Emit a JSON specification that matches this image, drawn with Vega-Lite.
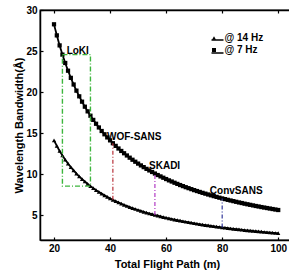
{
  "$schema": "https://vega.github.io/schema/vega-lite/v6.json",
  "width": 250,
  "height": 230,
  "autosize": {"type": "none"},
  "padding": {"left": 40, "top": 10, "right": 0, "bottom": 34},
  "background": "white",
  "config": {
    "font": "Liberation Sans",
    "view": {"stroke": "black", "strokeWidth": 1.3},
    "axis": {
      "labelFont": "Liberation Sans", "labelFontWeight": "bold", "labelFontSize": 10, "labelColor": "black",
      "titleFont": "Liberation Sans", "titleFontWeight": "bold", "titleFontSize": 11, "titleColor": "black",
      "domainColor": "black", "domainWidth": 1.5, "tickColor": "black", "tickSize": -3, "tickWidth": 1.2, "grid": false
    }
  },
  "datasets": {
    "curves": [
      {"L":20,"@ 7 Hz":28.26,"@ 14 Hz":14.13},{"L":21,"@ 7 Hz":26.91,"@ 14 Hz":13.46},{"L":22,"@ 7 Hz":25.69,"@ 14 Hz":12.84},
      {"L":23,"@ 7 Hz":24.57,"@ 14 Hz":12.29},{"L":24,"@ 7 Hz":23.55,"@ 14 Hz":11.77},{"L":25,"@ 7 Hz":22.61,"@ 14 Hz":11.30},
      {"L":26,"@ 7 Hz":21.74,"@ 14 Hz":10.87},{"L":27,"@ 7 Hz":20.93,"@ 14 Hz":10.47},{"L":28,"@ 7 Hz":20.18,"@ 14 Hz":10.09},
      {"L":29,"@ 7 Hz":19.49,"@ 14 Hz":9.74},{"L":30,"@ 7 Hz":18.84,"@ 14 Hz":9.42},{"L":31,"@ 7 Hz":18.23,"@ 14 Hz":9.12},
      {"L":32,"@ 7 Hz":17.66,"@ 14 Hz":8.83},{"L":33,"@ 7 Hz":17.13,"@ 14 Hz":8.56},{"L":34,"@ 7 Hz":16.62,"@ 14 Hz":8.31},
      {"L":35,"@ 7 Hz":16.15,"@ 14 Hz":8.07},{"L":36,"@ 7 Hz":15.70,"@ 14 Hz":7.85},{"L":37,"@ 7 Hz":15.27,"@ 14 Hz":7.64},
      {"L":38,"@ 7 Hz":14.87,"@ 14 Hz":7.44},{"L":39,"@ 7 Hz":14.49,"@ 14 Hz":7.25},{"L":40,"@ 7 Hz":14.13,"@ 14 Hz":7.06},
      {"L":41,"@ 7 Hz":13.78,"@ 14 Hz":6.89},{"L":42,"@ 7 Hz":13.46,"@ 14 Hz":6.73},{"L":43,"@ 7 Hz":13.14,"@ 14 Hz":6.57},
      {"L":44,"@ 7 Hz":12.84,"@ 14 Hz":6.42},{"L":45,"@ 7 Hz":12.56,"@ 14 Hz":6.28},{"L":46,"@ 7 Hz":12.29,"@ 14 Hz":6.14},
      {"L":47,"@ 7 Hz":12.02,"@ 14 Hz":6.01},{"L":48,"@ 7 Hz":11.77,"@ 14 Hz":5.89},{"L":49,"@ 7 Hz":11.53,"@ 14 Hz":5.77},
      {"L":50,"@ 7 Hz":11.30,"@ 14 Hz":5.65},{"L":51,"@ 7 Hz":11.08,"@ 14 Hz":5.54},{"L":52,"@ 7 Hz":10.87,"@ 14 Hz":5.43},
      {"L":53,"@ 7 Hz":10.66,"@ 14 Hz":5.33},{"L":54,"@ 7 Hz":10.47,"@ 14 Hz":5.23},{"L":55,"@ 7 Hz":10.28,"@ 14 Hz":5.14},
      {"L":56,"@ 7 Hz":10.09,"@ 14 Hz":5.05},{"L":57,"@ 7 Hz":9.91,"@ 14 Hz":4.96},{"L":58,"@ 7 Hz":9.74,"@ 14 Hz":4.87},
      {"L":59,"@ 7 Hz":9.58,"@ 14 Hz":4.79},{"L":60,"@ 7 Hz":9.42,"@ 14 Hz":4.71},{"L":61,"@ 7 Hz":9.26,"@ 14 Hz":4.63},
      {"L":62,"@ 7 Hz":9.12,"@ 14 Hz":4.56},{"L":63,"@ 7 Hz":8.97,"@ 14 Hz":4.49},{"L":64,"@ 7 Hz":8.83,"@ 14 Hz":4.42},
      {"L":65,"@ 7 Hz":8.69,"@ 14 Hz":4.35},{"L":66,"@ 7 Hz":8.56,"@ 14 Hz":4.28},{"L":67,"@ 7 Hz":8.43,"@ 14 Hz":4.22},
      {"L":68,"@ 7 Hz":8.31,"@ 14 Hz":4.16},{"L":69,"@ 7 Hz":8.19,"@ 14 Hz":4.10},{"L":70,"@ 7 Hz":8.07,"@ 14 Hz":4.04},
      {"L":71,"@ 7 Hz":7.96,"@ 14 Hz":3.98},{"L":72,"@ 7 Hz":7.85,"@ 14 Hz":3.92},{"L":73,"@ 7 Hz":7.74,"@ 14 Hz":3.87},
      {"L":74,"@ 7 Hz":7.64,"@ 14 Hz":3.82},{"L":75,"@ 7 Hz":7.54,"@ 14 Hz":3.77},{"L":76,"@ 7 Hz":7.44,"@ 14 Hz":3.72},
      {"L":77,"@ 7 Hz":7.34,"@ 14 Hz":3.67},{"L":78,"@ 7 Hz":7.25,"@ 14 Hz":3.62},{"L":79,"@ 7 Hz":7.15,"@ 14 Hz":3.58},
      {"L":80,"@ 7 Hz":7.06,"@ 14 Hz":3.53},{"L":81,"@ 7 Hz":6.98,"@ 14 Hz":3.49},{"L":82,"@ 7 Hz":6.89,"@ 14 Hz":3.45},
      {"L":83,"@ 7 Hz":6.81,"@ 14 Hz":3.40},{"L":84,"@ 7 Hz":6.73,"@ 14 Hz":3.36},{"L":85,"@ 7 Hz":6.65,"@ 14 Hz":3.32},
      {"L":86,"@ 7 Hz":6.57,"@ 14 Hz":3.29},{"L":87,"@ 7 Hz":6.50,"@ 14 Hz":3.25},{"L":88,"@ 7 Hz":6.42,"@ 14 Hz":3.21},
      {"L":89,"@ 7 Hz":6.35,"@ 14 Hz":3.17},{"L":90,"@ 7 Hz":6.28,"@ 14 Hz":3.14},{"L":91,"@ 7 Hz":6.21,"@ 14 Hz":3.11},
      {"L":92,"@ 7 Hz":6.14,"@ 14 Hz":3.07},{"L":93,"@ 7 Hz":6.08,"@ 14 Hz":3.04},{"L":94,"@ 7 Hz":6.01,"@ 14 Hz":3.01},
      {"L":95,"@ 7 Hz":5.95,"@ 14 Hz":2.97},{"L":96,"@ 7 Hz":5.89,"@ 14 Hz":2.94},{"L":97,"@ 7 Hz":5.83,"@ 14 Hz":2.91},
      {"L":98,"@ 7 Hz":5.77,"@ 14 Hz":2.88},{"L":99,"@ 7 Hz":5.71,"@ 14 Hz":2.85},{"L":100,"@ 7 Hz":5.65,"@ 14 Hz":2.83}
    ],
    "instruments": [
      {"name": "WOF-SANS", "L": 41, "lo": 6.89, "hi": 13.78},
      {"name": "SKADI", "L": 56, "lo": 5.05, "hi": 10.09},
      {"name": "ConvSANS", "L": 80, "lo": 3.53, "hi": 7.06}
    ],
    "loki": [{"L1": 23, "L2": 33, "lo": 8.56, "hi": 24.57}],
    "labels": [
      {"text": "LoKI", "L": 24.5, "v": 25.0},
      {"text": "WOF-SANS", "L": 38.9, "v": 14.5},
      {"text": "SKADI", "L": 53.9, "v": 11.0},
      {"text": "ConvSANS", "L": 75.6, "v": 7.95}
    ]
  },
  "resolve": {"axis": {"x": "independent"}},
  "layer": [
    {
      "data": {"name": "curves"},
      "transform": [{"fold": ["@ 14 Hz", "@ 7 Hz"], "as": ["lineSeries", "bw"]}],
      "mark": {"type": "line", "color": "black", "strokeWidth": 1.8},
      "encoding": {
        "x": {"field": "L", "type": "quantitative", "scale": {"domain": [15, 104.2], "nice": false, "zero": false},
          "axis": {"values": [20, 40, 60, 80, 100], "title": "Total Flight Path (m)", "labelPadding": 6, "titleX": 127, "titleY": 24, "titleBaseline": "middle", "titleAlign": "center"}},
        "y": {"field": "bw", "type": "quantitative", "scale": {"domain": [2, 30], "nice": false, "zero": false},
          "axis": {"values": [5, 10, 15, 20, 25, 30], "title": "Wavelength Bandwidth(Å)", "labelPadding": 6, "titleX": -21, "titleY": 115, "titleAngle": -90, "titleBaseline": "middle", "titleAlign": "center"}},
        "strokeDash": {"field": "lineSeries", "type": "nominal",
          "scale": {"range": [[1, 0], [1, 0]]},
          "legend": {"orient": "none", "legendX": 170.5, "legendY": 23, "title": null, "padding": 0,
            "labelFont": "Liberation Sans", "labelFontSize": 10, "labelFontWeight": "bold", "labelExpr": "''",
            "symbolType": "stroke", "symbolSize": 144, "symbolStrokeColor": "black", "symbolStrokeWidth": 1.5, "rowPadding": 1}}
      }
    },
    {
      "data": {"name": "curves"},
      "transform": [{"fold": ["@ 14 Hz", "@ 7 Hz"], "as": ["series", "bw"]}],
      "mark": {"type": "point", "filled": true, "color": "black", "size": 18, "opacity": 1},
      "encoding": {
        "x": {"field": "L", "type": "quantitative", "axis": {"orient": "top", "values": [20, 40, 60, 80, 100], "labels": false, "title": null}},
        "y": {"field": "bw", "type": "quantitative"},
        "shape": {"field": "series", "type": "nominal",
          "scale": {"range": ["triangle-up", "square"]},
          "legend": {"orient": "none", "legendX": 169, "legendY": 23, "title": null, "padding": 0,
            "labelFont": "Liberation Sans", "labelFontSize": 10, "labelFontWeight": "bold", "labelColor": "black",
            "symbolSize": 16, "symbolFillColor": "black", "labelOffset": 5.5, "rowPadding": 2}}
      }
    },
    {
      "data": {"name": "instruments"},
      "mark": {"type": "rule", "strokeWidth": 1.2, "strokeDash": [4, 2, 1, 2]},
      "encoding": {
        "x": {"field": "L", "type": "quantitative", "axis": null},
        "y": {"field": "lo", "type": "quantitative"},
        "y2": {"field": "hi"},
        "color": {"field": "name", "type": "nominal", "legend": null,
          "scale": {"domain": ["WOF-SANS", "SKADI", "ConvSANS"], "range": ["#b8323a", "#b23cc4", "#33389a"]}}
      }
    },
    {
      "data": {"name": "loki"},
      "mark": {"type": "rect", "filled": false, "stroke": "#3cb53c", "strokeWidth": 1.4, "strokeDash": [5, 2, 1, 2]},
      "encoding": {
        "x": {"field": "L1", "type": "quantitative", "axis": null},
        "x2": {"field": "L2"},
        "y": {"field": "lo", "type": "quantitative"},
        "y2": {"field": "hi"}
      }
    },
    {
      "data": {"name": "labels"},
      "mark": {"type": "text", "align": "left", "baseline": "middle", "font": "Liberation Sans", "fontWeight": "bold", "fontSize": 10, "color": "black"},
      "encoding": {
        "x": {"field": "L", "type": "quantitative", "axis": null},
        "y": {"field": "v", "type": "quantitative"},
        "text": {"field": "text"}
      }
    }
  ]
}
